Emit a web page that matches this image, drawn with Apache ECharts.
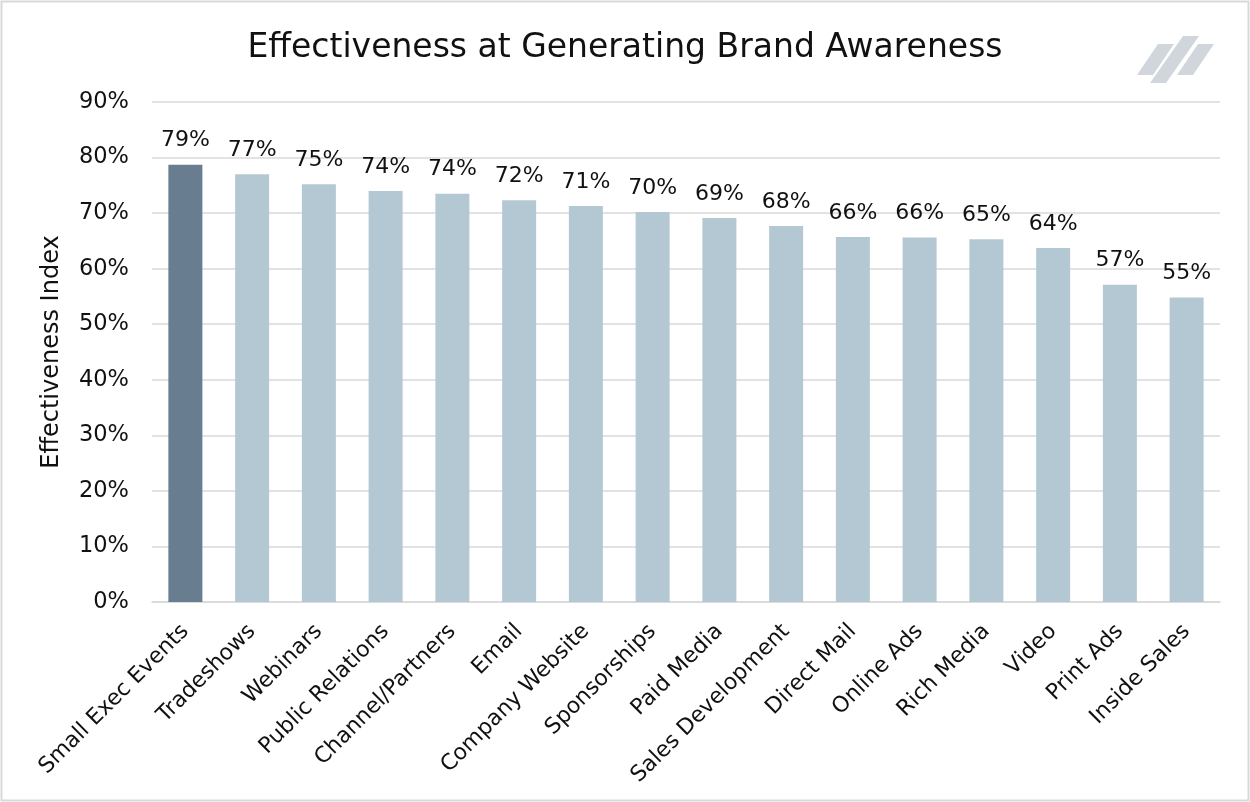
<!DOCTYPE html>
<html><head><meta charset="utf-8">
<script src="https://cdn.jsdelivr.net/npm/echarts@6/dist/echarts.min.js"></script>
<style>html,body{margin:0;padding:0;background:#fff}#c{width:1250px;height:802px}</style>
</head><body><div id="c"></div>
<script>
const categories = ["Small Exec Events","Tradeshows","Webinars","Public Relations","Channel/Partners","Email","Company Website","Sponsorships","Paid Media","Sales Development","Direct Mail","Online Ads","Rich Media","Video","Print Ads","Inside Sales"];
const values = [78.7,77.0,75.2,74.0,73.5,72.3,71.3,70.2,69.1,67.7,65.7,65.6,65.3,63.7,57.1,54.8];
const highlightIndex = 0;
const yTicks = [0,10,20,30,40,50,60,70,80,90];

const chart = echarts.init(document.getElementById('c'));
const font = 'DejaVu Sans, sans-serif';
chart.setOption({
  animation:false,
  title:{text:'Effectiveness at Generating Brand Awareness',left:'center',top:27,
    textStyle:{fontFamily:font,fontSize:33,fontWeight:'normal',color:'#111'}},
  grid:{left:152,right:30,top:102,bottom:200},
  xAxis:{type:'category',data:categories,
    axisLine:{lineStyle:{color:'#d9d9d9',width:1.5}},axisTick:{show:false},
    axisLabel:{rotate:45,interval:0,fontFamily:font,fontSize:22,color:'#111',margin:26}},
  yAxis:{type:'value',min:yTicks[0],max:yTicks[yTicks.length-1],interval:10,
    name:'Effectiveness Index',nameLocation:'middle',nameGap:88,nameRotate:90,
    nameTextStyle:{fontFamily:font,fontSize:24,color:'#111'},
    axisLabel:{formatter:'{value}%',fontFamily:font,fontSize:22.5,color:'#111',margin:23},
    splitLine:{lineStyle:{color:'#d9d9d9',width:1.5}},axisLine:{show:false},axisTick:{show:false}},
  series:[{type:'bar',barWidth:34,
    data:values.map((v,i)=>({value:v,itemStyle:{color:i===highlightIndex?'#687d90':'#b4c8d4'}})),
    label:{show:true,position:'top',distance:13,fontFamily:font,fontSize:22,color:'#111',
      formatter:p=>Math.round(p.value)+'%'}}],
  graphic:[
    {type:'rect',shape:{x:1.5,y:1.5,width:1247,height:799},style:{fill:'none',stroke:'#d9d9d9',lineWidth:2}},
    {type:'polygon',shape:{points:[[1137,75],[1153,75],[1174,44],[1158,44]]},style:{fill:'#d0d6db'}},
    {type:'polygon',shape:{points:[[1150,83],[1166,83],[1199,36],[1183,36]]},style:{fill:'#d0d6db'}},
    {type:'polygon',shape:{points:[[1177,75],[1193,75],[1214,44],[1198,44]]},style:{fill:'#d0d6db'}}
  ]
});
</script></body></html>
